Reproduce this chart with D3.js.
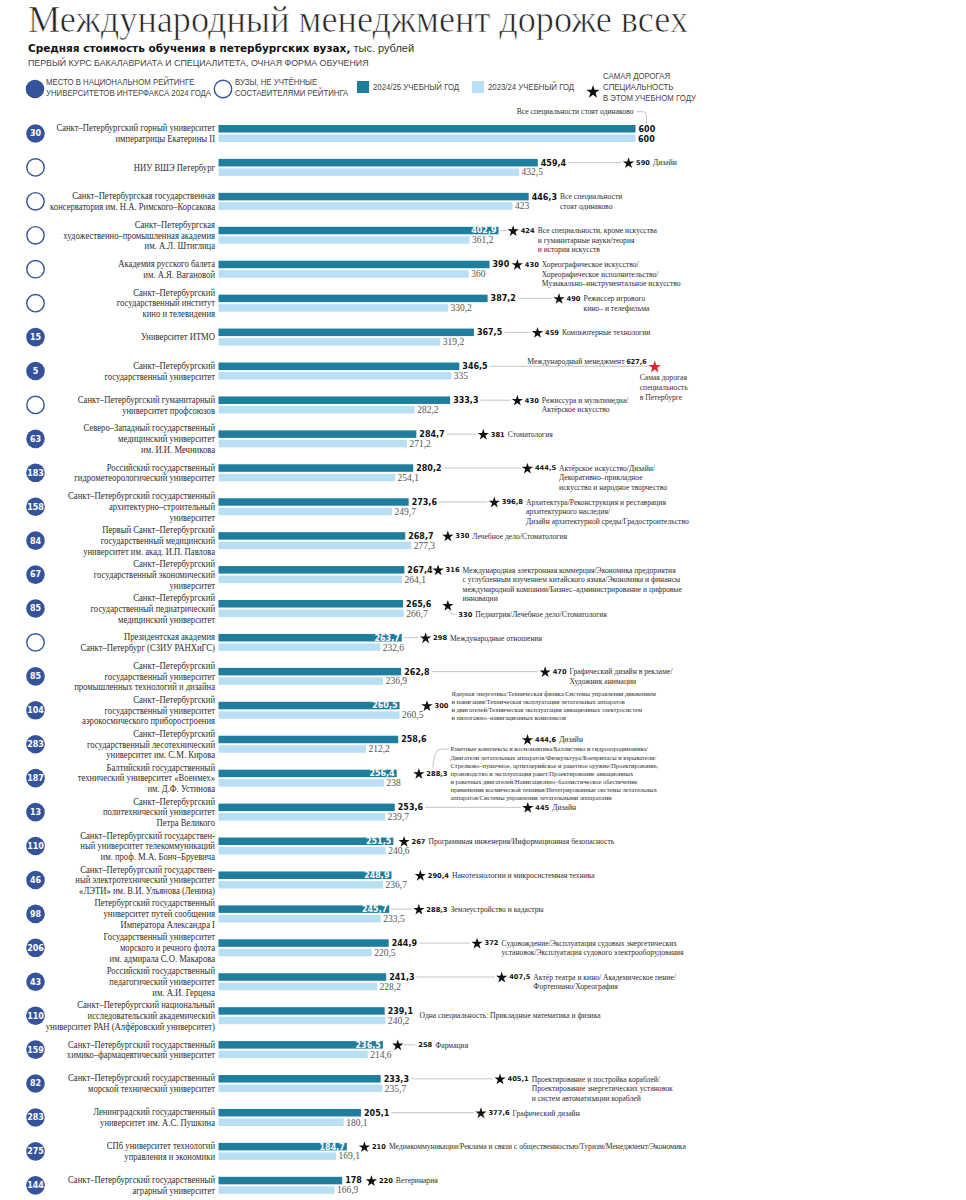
<!DOCTYPE html>
<html><head><meta charset="utf-8">
<script src="https://cdn.jsdelivr.net/npm/d3@7"></script>
<style>body{margin:0;background:#fff}svg{display:block}</style>
</head><body>
<svg id="c" width="966" height="1200"></svg>
<script>
// ---------------- DATA ----------------
const ranks = [30, null, null, null, null, null, 15, 5, null, 63, 183, 158, 84, 67, 85, null, 85, 104, 283, 187, 13, 110, 46, 98, 206, 43, 110, 159, 82, 283, 275, 144];

const universities = [
  ["Санкт–Петербургский горный университет", "императрицы Екатерины II"],
  ["НИУ ВШЭ Петербург"],
  ["Санкт–Петербургская государственная", "консерватория им. Н.А. Римского–Корсакова"],
  ["Санкт–Петербургская", "художественно–промышленная академия", "им. А.Л. Штиглица"],
  ["Академия русского балета", "им. А.Я. Вагановой"],
  ["Санкт–Петербургский", "государственный институт", "кино и телевидения"],
  ["Университет ИТМО"],
  ["Санкт–Петербургский", "государственный университет"],
  ["Санкт–Петербургский гуманитарный", "университет профсоюзов"],
  ["Северо–Западный государственный", "медицинский университет", "им. И.И. Мечникова"],
  ["Российский государственный", "гидрометеорологический университет"],
  ["Санкт–Петербургский государственный", "архитектурно–строительный", "университет"],
  ["Первый Санкт–Петербургский", "государственный медицинский", "университет им. акад. И.П. Павлова"],
  ["Санкт–Петербургский", "государственный экономический", "университет"],
  ["Санкт–Петербургский", "государственный педиатрический", "медицинский университет"],
  ["Президентская академия", "Санкт–Петербург (СЗИУ РАНХиГС)"],
  ["Санкт–Петербургский", "государственный университет", "промышленных технологий и дизайна"],
  ["Санкт–Петербургский", "государственный университет", "аэрокосмического приборостроения"],
  ["Санкт–Петербургский", "государственный лесотехнический", "университет им. С.М. Кирова"],
  ["Балтийский государственный", "технический университет «Военмех»", "им. Д.Ф. Устинова"],
  ["Санкт–Петербургский", "политехнический университет", "Петра Великого"],
  ["Санкт–Петербургский государствен-", "ный университет телекоммуникаций", "им. проф. М.А. Бонч–Бруевича"],
  ["Санкт–Петербургский государствен-", "ный электротехнический университет", "«ЛЭТИ» им. В.И. Ульянова (Ленина)"],
  ["Петербургский государственный", "университет путей сообщения", "Императора Александра I"],
  ["Государственный университет", "морского и речного флота", "им. адмирала С.О. Макарова"],
  ["Российский государственный", "педагогический университет", "им. А.И. Герцена"],
  ["Санкт–Петербургский национальный", "исследовательский академический", "университет РАН (Алфёровский университет)"],
  ["Санкт–Петербургский государственный", "химико–фармацевтический университет"],
  ["Санкт–Петербургский государственный", "морской технический университет"],
  ["Ленинградский государственный", "университет им. А.С. Пушкина"],
  ["СПб университет технологий", "управления и экономики"],
  ["Санкт–Петербургский государственный", "аграрный университет"]
];

const cost2024 = [600, 459.4, 446.3, 402.9, 390, 387.2, 367.5, 346.5, 333.3, 284.7, 280.2, 273.6, 268.7, 267.4, 265.6, 263.7, 262.8, 260.5, 258.6, 256.4, 253.6, 251.5, 248.9, 245.7, 244.9, 241.3, 239.1, 236.5, 233.3, 205.1, 184.7, 178];
const cost2023 = [600, 432.5, 423, 361.2, 360, 330.2, 319.2, 335, 282.2, 271.2, 254.1, 249.7, 277.3, 264.1, 266.7, 232.6, 236.9, 260.5, 212.2, 238, 239.7, 240.6, 236.7, 233.5, 220.5, 228.2, 240.2, 214.6, 235.7, 180.1, 169.1, 166.9];
const topCost = [null, 590, null, 424, 430, 490, 459, 627.6, 430, 381, 444.5, 396.8, 330, 316, 330, 298, 470, 300, 444.6, 288.3, 445, 267, 290.4, 288.3, 372, 407.5, null, 258, 405.1, 377.6, 210, 220];

const topSpecialty = [
  null,
  ["Дизайн"],
  null,
  ["Все специальности, кроме искусства", "и гуманитарные науки/теория", "и история искусств"],
  ["Хореографическое искусство/", "Хореорафическое исполнительство/", "Музыкально–инструментальное искусство"],
  ["Режиссер игрового", "кино– и телефильма"],
  ["Компьютерные технологии"],
  ["Международный менеджмент"],
  ["Режиссура и мультимедиа/", "Актёрское искусство"],
  ["Стоматология"],
  ["Актёрское искусство/Дизайн/", "Декоративно–прикладное", "искусство и народное творчество"],
  ["Архитектура/Реконструкция и реставрация", "архитектурного наследия/", "Дизайн архитектурной среды/Градостроительство"],
  ["Лечебное дело/Стоматология"],
  ["Международная электронная коммерция/Экономика предприятия", "с углубленным изучением китайского языка/Экономика и финансы", "международной компании/Бизнес–администрирование и цифровые", "инновации"],
  ["Педиатрия/Лечебное дело/Стоматология"],
  ["Международные отношения"],
  ["Графический дизайн в рекламе/", "Художник анимации"],
  ["Ядерная энергетика/Техническая физика/Системы управления движением", "и навигация/Техническая эксплуатация летательных аппаратов", "и двигателей/Техническая эксплуатация авиационных электросистем", "и пилотажно–навигационных комплексов"],
  ["Дизайн"],
  ["Ракетные комплексы и космонавтика/Баллистика и гидроаэродинамика/", "Двигатели летательных аппаратов/Физкультура/Боеприпасы и взрыватели/", "Стрелково–пушечное, артиллерийское и ракетное оружие/Проектирование,", "производство и эксплуатация ракет/Проектирование авиационных", "и ракетных двигателей/Навигационно–баллистическое обеспечение", "применения космической техники/Интегрированные системы летательных", "аппаратов/Системы управления летательными аппаратами"],
  ["Дизайн"],
  ["Программная инженерия/Информационная безопасность"],
  ["Нанотехнологии и микросистемная техника"],
  ["Землеустройство и кадастры"],
  ["Судовождение/Эксплуатация судовых энергетических", "установок/Эксплуатация судового электрооборудования"],
  ["Актёр театра и кино/ Академическое пение/", "Фортепиано/Хореография"],
  null,
  ["Фармация"],
  ["Проектирование и постройка кораблей/", "Проектирование энергетических установок", "и систем автоматизации кораблей"],
  ["Графический дизайн"],
  ["Медиакоммуникации/Реклама и связи с общественностью/Туризм/Менеджмент/Экономика"],
  ["Ветеринария"]
];

const notes = [["Все специальности стоят одинаково"], null, ["Все специальности", "стоят одинаково"], null, null, null, null, null, null, null, null, null, null, null, null, null, null, null, null, null, null, null, null, null, null, null, ["Одна специальность: Прикладные математика и физика"], null, null, null, null, null];

const recordCaption = ["Самая дорогая", "специальность", "в Петербурге"];

const titleText = "Международный менеджмент дороже всех";
const subtitleBold = "Средняя стоимость обучения в петербургских вузах,";
const subtitleUnit = " тыс. рублей";
const subtitle2 = "ПЕРВЫЙ КУРС БАКАЛАВРИАТА И СПЕЦИАЛИТЕТА, ОЧНАЯ ФОРМА ОБУЧЕНИЯ";
const legendRank = ["МЕСТО В НАЦИОНАЛЬНОМ РЕЙТИНГЕ", "УНИВЕРСИТЕТОВ ИНТЕРФАКСА 2024 ГОДА"];
const legendNoRank = ["ВУЗЫ, НЕ УЧТЁННЫЕ", "СОСТАВИТЕЛЯМИ РЕЙТИНГА"];
const legendYears = ["2024/25 УЧЕБНЫЙ ГОД", "2023/24 УЧЕБНЫЙ ГОД"];
const legendStar = ["САМАЯ ДОРОГАЯ", "СПЕЦИАЛЬНОСТЬ", "В ЭТОМ УЧЕБНОМ ГОДУ"];

// ---------------- LAYOUT CONFIG ----------------
const leader = [0,1,0,1,0,1,1,1,1,1,1,1,0,0,0,1,1,0,0,0,1,0,0,1,1,1,0,0,1,1,0,0];
const RECORD = 7, SMALL = new Set([17, 19]), DROP = 14, OFFSET = 27, CURVE = 19;
const SX_LABEL = 0.89, SX_NOTE = 0.93, SX_SMALL = 0.95, SX_LEG = 0.85, SX_SUB = 0.95;

const SERIF = "'Liberation Serif','Times New Roman',serif";
const SANSB = "'DejaVu Sans',Verdana,sans-serif";
const NARROW = "'Liberation Sans Narrow','Arial Narrow','Liberation Sans',sans-serif";
const C = {dark: "#1f7e9d", light: "#b9dff5", navy: "#35539a", text: "#2e2e2e", grey: "#555", line: "#b5b5b5", red: "#d8282f"};

const svg = d3.select("#c");
svg.append("rect").attr("width", 966).attr("height", 1200).attr("fill", "#fff");

const n = cost2024.length;
const x = d3.scaleLinear().domain([0, 600]).range([218.5, 635.5]);
const y = d3.scalePoint().domain(d3.range(n)).range([133.5, 133.5 + 31 * 33.93]);
const fmt = v => String(v).replace(".", ",");
const starPath = s => d3.symbol().type(d3.symbolStar).size(s)();
const measure = sel => sel.node().getComputedTextLength();
// horizontally condensed text (emulates a condensed typeface)
const stext = (p, tx, ty, s, str) => p.append("text").attr("transform", `translate(${tx},${ty}) scale(${s},1)`).text(str);

// ---------------- HEADER ----------------
svg.append("text").attr("x", 28).attr("y", 32).attr("font-family", SERIF).attr("font-size", 37.5)
  .attr("fill", "#222").attr("stroke", "#fff").attr("stroke-width", 0.7)
  .attr("textLength", 660).attr("lengthAdjust", "spacingAndGlyphs").text(titleText);
const sub = svg.append("text").attr("x", 28).attr("y", 52).attr("fill", "#111");
sub.append("tspan").attr("font-family", SANSB).attr("font-weight", "bold").attr("font-size", 10.5).text(subtitleBold);
sub.append("tspan").attr("font-family", NARROW).attr("font-size", 11).attr("fill", "#333").text(subtitleUnit);
stext(svg, 28, 66, SX_SUB, subtitle2).attr("font-family", NARROW).attr("font-size", 9.3).attr("fill", "#444");

// ---------------- LEGEND ----------------
const lg = svg.append("g").attr("font-family", NARROW).attr("font-size", 9.2).attr("fill", "#444");
lg.append("circle").attr("cx", 35).attr("cy", 89).attr("r", 9.3).attr("fill", C.navy);
legendRank.forEach((s, k) => stext(lg, 46, 85 + k * 11, SX_LEG, s));
lg.append("circle").attr("cx", 223).attr("cy", 89).attr("r", 8.7).attr("fill", "#fff").attr("stroke", C.navy).attr("stroke-width", 1.4);
legendNoRank.forEach((s, k) => stext(lg, 235, 85 + k * 11, SX_LEG, s));
[C.dark, C.light].forEach((col, k) => {
  const x0 = k ? 472 : 357;
  lg.append("rect").attr("x", x0).attr("y", 81).attr("width", 12).attr("height", 12).attr("fill", col);
  stext(lg, x0 + 16, 90, SX_LEG, legendYears[k]);
});
lg.append("path").attr("d", starPath(55)).attr("transform", "translate(593,92)").attr("fill", "#111");
legendStar.forEach((s, k) => stext(lg, 603, 79 + k * 11, SX_LEG, s));

// ---------------- ROWS ----------------
d3.range(n).forEach(i => {
  const g = svg.append("g");
  const cy = y(i), dc = cy - 4.75, lc = cy + 4.75;

  // rank circle
  if (ranks[i] != null) {
    g.append("circle").attr("cx", 35.5).attr("cy", cy).attr("r", 9.3).attr("fill", C.navy);
    g.append("text").attr("x", 35.5).attr("y", cy + 2.9).attr("text-anchor", "middle")
      .attr("font-family", SANSB).attr("font-weight", "bold").attr("font-size", 8).attr("fill", "#fff").text(ranks[i]);
  } else {
    g.append("circle").attr("cx", 35.5).attr("cy", cy).attr("r", 8.7).attr("fill", "#fff")
      .attr("stroke", C.navy).attr("stroke-width", 1.4);
  }

  // university label
  const L = universities[i];
  L.forEach((s, k) => stext(g, 215, cy + (k - (L.length - 1) / 2) * 10.7 + 3.3, SX_LABEL, s)
    .attr("text-anchor", "end").attr("font-family", SERIF).attr("font-size", 9.7).attr("fill", C.text));

  // bars
  const bEnd = x(cost2024[i]), lEnd = x(cost2023[i]);
  g.append("rect").attr("x", x(0)).attr("y", cy - 8.5).attr("width", bEnd - x(0)).attr("height", 7.5).attr("fill", C.dark);
  g.append("rect").attr("x", x(0)).attr("y", cy + 1).attr("width", lEnd - x(0)).attr("height", 7.5).attr("fill", C.light);

  // previous-year label
  g.append("text").attr("x", lEnd + 2.5).attr("y", lc + 3.3)
    .attr("font-family", i === 0 ? SANSB : SERIF).attr("font-weight", i === 0 ? "bold" : "normal")
    .attr("font-size", i === 0 ? 8 : 9.5).attr("fill", i === 0 ? "#111" : C.grey).text(fmt(cost2023[i]));

  // current-year label
  const dl = g.append("text").attr("x", bEnd + 3).attr("y", dc + 2.9)
    .attr("font-family", SANSB).attr("font-weight", "bold").attr("font-size", 8).attr("fill", "#111").text(fmt(cost2024[i]));
  const w = measure(dl);
  const sx = topCost[i] != null ? x(topCost[i]) : null;
  let labelEnd = bEnd + 3 + w;
  if (sx != null && i !== RECORD && sx - bEnd < w + 8) {
    dl.attr("x", bEnd - 2).attr("text-anchor", "end").attr("fill", "#fff");
    labelEnd = bEnd;
  }

  // notes without stars
  if (notes[i]) {
    if (i === 0) {
      stext(g, bEnd - 2, dc - 14.3, SX_NOTE, notes[i][0]).attr("text-anchor", "end")
        .attr("font-family", SERIF).attr("font-size", 8.2).attr("fill", C.text);
      g.append("path").attr("fill", "none").attr("stroke", C.line).attr("stroke-width", 0.8)
        .attr("d", `M${bEnd + 1},${dc - 17} H${bEnd + 8} Q${bEnd + 11},${dc - 17} ${bEnd + 11},${dc - 13} V${dc - 5.5}`);
    } else {
      const tx = labelEnd + (notes[i].length > 1 ? 3 : 6.5);
      const ty = notes[i].length > 1 ? dc : cy;
      notes[i].forEach((s, k) => stext(g, tx, ty + k * 9.5 + 2.8, SX_NOTE, s)
        .attr("font-family", SERIF).attr("font-size", 8.2).attr("fill", C.text));
    }
  }

  if (sx == null) return;

  // leader line
  if (leader[i]) {
    g.append("line").attr("x1", labelEnd + 2).attr("x2", sx - (i === RECORD ? 6 : 7))
      .attr("y1", dc).attr("y2", dc).attr("stroke", C.line).attr("stroke-width", 0.8);
  }

  if (i === RECORD) {
    const t = stext(g, sx - 8, dc - 2.2, SX_NOTE, null).attr("text-anchor", "end").attr("fill", C.text);
    t.append("tspan").attr("font-family", SERIF).attr("font-size", 8.2).text(topSpecialty[i][0] + " ");
    t.append("tspan").attr("font-family", SANSB).attr("font-weight", "bold").attr("font-size", 6.9).attr("fill", "#111").text(fmt(topCost[i]));
    g.append("path").attr("d", starPath(50)).attr("transform", `translate(${sx},${dc + 0.8})`).attr("fill", C.red);
    recordCaption.forEach((s, k) => stext(g, sx - 15, dc + 14.2 + k * 9.6, SX_NOTE, s)
      .attr("font-family", SERIF).attr("font-size", 8.2).attr("fill", "#3d2d28"));
    return;
  }

  let sy = dc, numX = sx + 7.5, numY = dc;
  if (i === DROP) { sy = dc + 1.5; numX = sx + 10.5; numY = lc + 1; }
  if (i === OFFSET) { numX = sx + 20.5; }

  g.append("path").attr("d", starPath(40)).attr("transform", `translate(${sx},${sy + 0.6})`).attr("fill", "#111");

  if (i === DROP) {
    g.append("path").attr("fill", "none").attr("stroke", C.line).attr("stroke-width", 0.8)
      .attr("d", `M${sx + 1},${sy + 6} Q${sx + 2},${numY} ${sx + 9},${numY}`);
  }
  if (i === OFFSET) {
    g.append("line").attr("x1", sx + 6).attr("x2", sx + 17.5).attr("y1", dc).attr("y2", dc)
      .attr("stroke", C.line).attr("stroke-width", 0.8);
  }

  const num = g.append("text").attr("x", numX).attr("y", numY + 2.4)
    .attr("font-family", SANSB).attr("font-weight", "bold").attr("font-size", 6.7).attr("fill", "#111").text(fmt(topCost[i]));
  const tx = numX + measure(num) + 3;
  const lines = topSpecialty[i];

  if (SMALL.has(i)) {
    lines.forEach((s, k) => stext(g, tx, sy + (k - (lines.length - 1) / 2) * 8.1 + 2.3, SX_SMALL, s)
      .attr("font-family", SERIF).attr("font-size", 6.8).attr("fill", C.text));
    if (i === CURVE) {
      const y0 = sy - 3 * 8.1;
      g.append("path").attr("fill", "none").attr("stroke", C.line).attr("stroke-width", 0.8)
        .attr("d", `M${tx - 1.5},${y0} H${sx + 22} Q${sx + 15},${y0} ${sx + 14},${sy - 6}`);
    }
  } else {
    lines.forEach((s, k) => stext(g, tx, numY + k * 9.5 + 2.8, SX_NOTE, s)
      .attr("font-family", SERIF).attr("font-size", 8.2).attr("fill", C.text));
  }
});
</script>
</body></html>
